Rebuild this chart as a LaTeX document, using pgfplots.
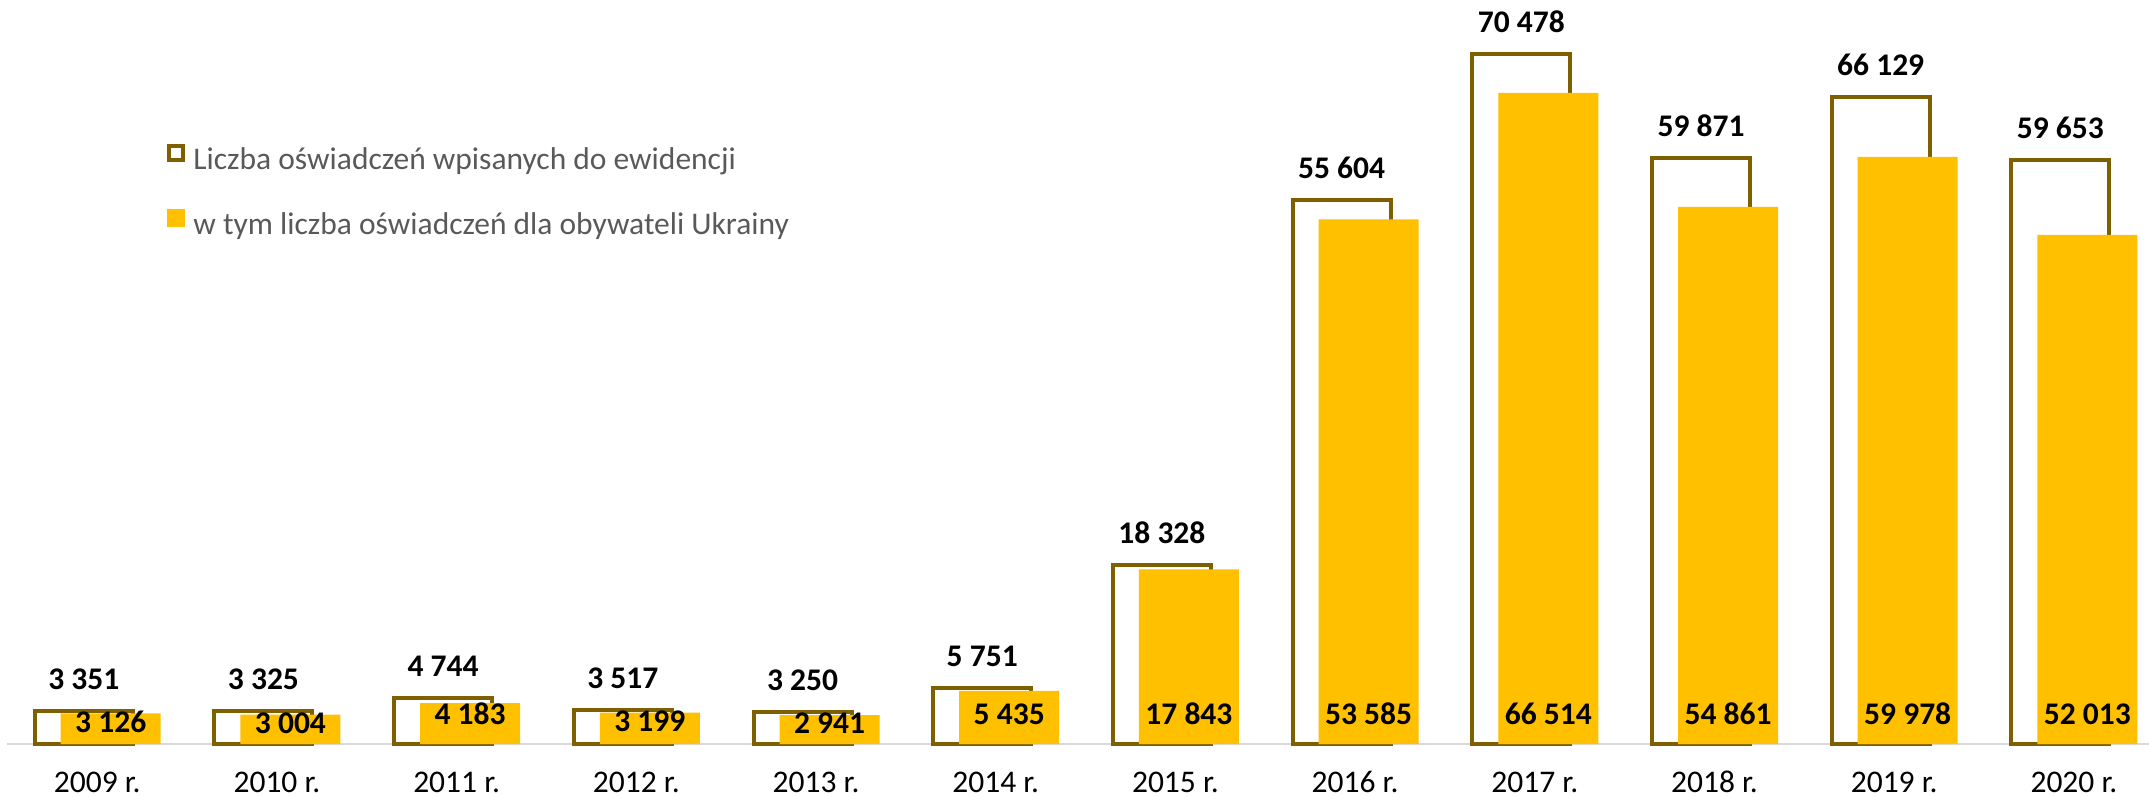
\documentclass[border=0pt]{standalone}
\usepackage{pgfplots}
\pgfplotsset{compat=1.18}
\usepackage{pgfplotstable}
\usepackage{fontspec}
\setmainfont{Carlito}

\definecolor{obrys}{RGB}{127,96,0}
\definecolor{zolty}{RGB}{255,192,0}
\definecolor{szary}{RGB}{89,89,89}
\definecolor{linia}{RGB}{217,217,217}

% x: rok (0 = 2009), a: wszystkie oswiadczenia, u: dla obywateli Ukrainy
\pgfplotstableread{
x a u
0 3351 3126
1 3325 3004
2 4744 4183
3 3517 3199
4 3250 2941
5 5751 5435
6 18328 17843
7 55604 53585
8 70478 66514
9 59871 54861
10 66129 59978
11 59653 52013
}\dane

\newcommand{\fnt}{\fontsize{12.6}{15}\selectfont}

\begin{document}
\begin{tikzpicture}
\begin{axis}[name=ax, scale only axis, width=856.6pt, height=297.6pt,
  xmin=-0.5, xmax=11.418, ymin=0, ymax=76000,
  axis y line=none, axis x line*=bottom,
  x axis line style={draw=linia, line width=0.8pt, -},
  xtick={0,...,11},
  xticklabels={2009 r.,2010 r.,2011 r.,2012 r.,2013 r.,2014 r.,2015 r.,2016 r.,2017 r.,2018 r.,2019 r.,2020 r.},
  major tick length=0pt,
  xticklabel style={font=\fnt, anchor=base, yshift=-19.2pt, text=black},
  /pgf/number format/.cd, fixed, precision=0, 1000 sep={\ }, assume math mode=true, /pgfplots/.cd,
  clip=false,
  legend cell align=left,
  legend style={at={(axis description cs:0.0745,0.8071)}, anchor=north west,
    draw=none, fill=none, inner sep=0pt, outer sep=0pt, row sep=12.8pt,
    font=\fnt, text=szary,
    nodes={inner sep=0pt, text height=9pt, text depth=3pt},
    /tikz/every odd column/.append style={column sep=3.4pt}},
]
\addplot[ybar, bar width=39.2pt, bar shift=-5.4pt, draw=obrys, line width=1.6pt, fill=white,
  nodes near coords,
  nodes near coords style={font=\fnt\bfseries, text=black, anchor=base, xshift=-5.4pt, yshift=8.6pt},
  legend image code/.code={\draw[obrys, line width=1.6pt, fill=white] (0.8pt,0.8pt) rectangle (6.4pt,6.4pt);}]
  table[x=x, y=a] {\dane};
\addlegendentry{Liczba oświadczeń wpisanych do ewidencji}

\addplot[ybar, bar width=40pt, bar shift=5.4pt, fill=zolty, draw=none,
  legend image code/.code={\fill[zolty] (0pt,0pt) rectangle (7.2pt,7.2pt);}]
  table[x=x, y=u] {\dane};
\addlegendentry{w tym liczba oświadczeń dla obywateli Ukrainy}

% etykiety wartosci przy podstawie zoltych slupkow
\addplot[forget plot, draw=none, mark=none, nodes near coords, point meta=\thisrow{u},
  nodes near coords style={font=\fnt\bfseries, text=black, anchor=base}]
  table[x expr=\thisrow{x}+0.0751, y expr={min(2040,\thisrow{u}-1900)}] {\dane};
\end{axis}
\pgfresetboundingbox
\path[use as bounding box] ([xshift=-2.96pt, yshift=-20.8pt]ax.south west) rectangle (ax.north east);
\end{tikzpicture}
\end{document}
